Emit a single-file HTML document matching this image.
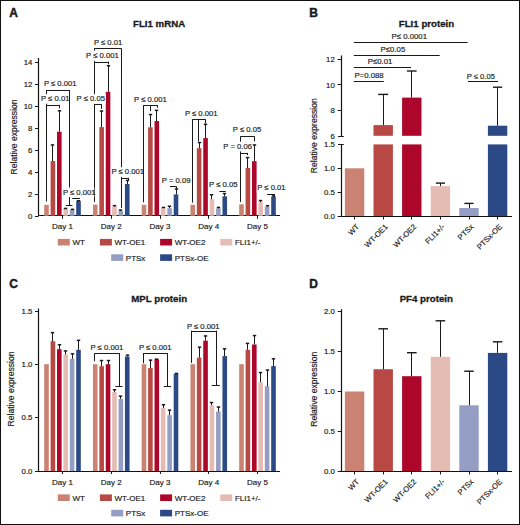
<!DOCTYPE html>
<html><head><meta charset="utf-8"><style>
html,body{margin:0;padding:0;background:#fff;}
svg{display:block;font-family:"Liberation Sans", sans-serif;}
text{stroke:#1a1a1a;stroke-width:0.17px;}
</style></head><body>
<svg width="520" height="525" viewBox="0 0 520 525">
<rect x="0" y="0" width="520" height="525" fill="#fff"/>
<text x="9.20" y="16.50" font-size="12" text-anchor="start" font-weight="bold" fill="#1a1a1a" style="stroke-width:0.45px">A</text>
<text x="159.10" y="27.20" font-size="9.7" text-anchor="middle" font-weight="bold" fill="#1a1a1a" style="stroke-width:0.3px">FLI1 mRNA</text>
<text transform="translate(17.0,136.9) rotate(-90)" font-size="8.6" text-anchor="middle" fill="#1a1a1a">Relative expression</text>
<line x1="46.40" y1="90.50" x2="69.10" y2="90.50" stroke="#1a1a1a" stroke-width="1.0"/>
<line x1="46.50" y1="90.00" x2="46.50" y2="201.50" stroke="#1a1a1a" stroke-width="1.0"/>
<line x1="69.50" y1="90.00" x2="69.50" y2="205.50" stroke="#1a1a1a" stroke-width="1.0"/>
<line x1="65.80" y1="205.50" x2="72.40" y2="205.50" stroke="#1a1a1a" stroke-width="1.0"/>
<line x1="46.40" y1="105.50" x2="59.70" y2="105.50" stroke="#1a1a1a" stroke-width="1.0"/>
<line x1="59.50" y1="104.80" x2="59.50" y2="108.40" stroke="#1a1a1a" stroke-width="1.0"/>
<line x1="72.20" y1="198.50" x2="80.00" y2="198.50" stroke="#1a1a1a" stroke-width="1.0"/>
<line x1="94.50" y1="48.50" x2="121.10" y2="48.50" stroke="#1a1a1a" stroke-width="1.0"/>
<line x1="94.50" y1="48.30" x2="94.50" y2="202.00" stroke="#1a1a1a" stroke-width="1.0"/>
<line x1="121.50" y1="48.30" x2="121.50" y2="208.00" stroke="#1a1a1a" stroke-width="1.0"/>
<line x1="94.50" y1="62.50" x2="108.30" y2="62.50" stroke="#1a1a1a" stroke-width="1.0"/>
<line x1="108.50" y1="61.60" x2="108.50" y2="64.40" stroke="#1a1a1a" stroke-width="1.0"/>
<line x1="94.50" y1="104.50" x2="101.80" y2="104.50" stroke="#1a1a1a" stroke-width="1.0"/>
<line x1="101.50" y1="104.40" x2="101.50" y2="109.00" stroke="#1a1a1a" stroke-width="1.0"/>
<line x1="121.10" y1="178.50" x2="128.20" y2="178.50" stroke="#1a1a1a" stroke-width="1.0"/>
<line x1="128.50" y1="177.80" x2="128.50" y2="180.60" stroke="#1a1a1a" stroke-width="1.0"/>
<line x1="143.60" y1="105.50" x2="157.10" y2="105.50" stroke="#1a1a1a" stroke-width="1.0"/>
<line x1="143.50" y1="105.10" x2="143.50" y2="202.30" stroke="#1a1a1a" stroke-width="1.0"/>
<line x1="150.50" y1="105.10" x2="150.50" y2="111.10" stroke="#1a1a1a" stroke-width="1.0"/>
<line x1="157.50" y1="105.10" x2="157.50" y2="107.70" stroke="#1a1a1a" stroke-width="1.0"/>
<line x1="170.00" y1="186.50" x2="176.30" y2="186.50" stroke="#1a1a1a" stroke-width="1.0"/>
<line x1="176.50" y1="186.30" x2="176.50" y2="188.60" stroke="#1a1a1a" stroke-width="1.0"/>
<line x1="192.30" y1="119.50" x2="205.60" y2="119.50" stroke="#1a1a1a" stroke-width="1.0"/>
<line x1="192.50" y1="119.30" x2="192.50" y2="202.70" stroke="#1a1a1a" stroke-width="1.0"/>
<line x1="198.50" y1="119.30" x2="198.50" y2="141.50" stroke="#1a1a1a" stroke-width="1.0"/>
<line x1="205.50" y1="119.30" x2="205.50" y2="123.60" stroke="#1a1a1a" stroke-width="1.0"/>
<line x1="219.40" y1="191.50" x2="225.80" y2="191.50" stroke="#1a1a1a" stroke-width="1.0"/>
<line x1="240.70" y1="136.50" x2="254.40" y2="136.50" stroke="#1a1a1a" stroke-width="1.0"/>
<line x1="240.50" y1="136.20" x2="240.50" y2="202.00" stroke="#1a1a1a" stroke-width="1.0"/>
<line x1="254.50" y1="136.20" x2="254.50" y2="141.30" stroke="#1a1a1a" stroke-width="1.0"/>
<line x1="240.90" y1="153.50" x2="247.70" y2="153.50" stroke="#1a1a1a" stroke-width="1.0"/>
<line x1="247.50" y1="152.90" x2="247.50" y2="155.20" stroke="#1a1a1a" stroke-width="1.0"/>
<line x1="267.10" y1="194.50" x2="274.00" y2="194.50" stroke="#1a1a1a" stroke-width="1.0"/>
<line x1="274.50" y1="194.10" x2="274.50" y2="196.90" stroke="#1a1a1a" stroke-width="1.0"/>
<line x1="38.50" y1="58.00" x2="38.50" y2="216.30" stroke="#111" stroke-width="1.2"/>
<line x1="38.00" y1="215.50" x2="280.00" y2="215.50" stroke="#111" stroke-width="1.2"/>
<line x1="35.00" y1="216.50" x2="38.50" y2="216.50" stroke="#1a1a1a" stroke-width="1.0"/>
<text x="32.40" y="218.60" font-size="7.8" text-anchor="end" font-weight="normal" fill="#1a1a1a" >0</text>
<line x1="35.00" y1="194.50" x2="38.50" y2="194.50" stroke="#1a1a1a" stroke-width="1.0"/>
<text x="32.40" y="196.60" font-size="7.8" text-anchor="end" font-weight="normal" fill="#1a1a1a" >2</text>
<line x1="35.00" y1="172.50" x2="38.50" y2="172.50" stroke="#1a1a1a" stroke-width="1.0"/>
<text x="32.40" y="174.60" font-size="7.8" text-anchor="end" font-weight="normal" fill="#1a1a1a" >4</text>
<line x1="35.00" y1="150.50" x2="38.50" y2="150.50" stroke="#1a1a1a" stroke-width="1.0"/>
<text x="32.40" y="152.60" font-size="7.8" text-anchor="end" font-weight="normal" fill="#1a1a1a" >6</text>
<line x1="35.00" y1="128.50" x2="38.50" y2="128.50" stroke="#1a1a1a" stroke-width="1.0"/>
<text x="32.40" y="130.60" font-size="7.8" text-anchor="end" font-weight="normal" fill="#1a1a1a" >8</text>
<line x1="35.00" y1="106.50" x2="38.50" y2="106.50" stroke="#1a1a1a" stroke-width="1.0"/>
<text x="32.40" y="108.60" font-size="7.8" text-anchor="end" font-weight="normal" fill="#1a1a1a" >10</text>
<line x1="35.00" y1="84.50" x2="38.50" y2="84.50" stroke="#1a1a1a" stroke-width="1.0"/>
<text x="32.40" y="86.60" font-size="7.8" text-anchor="end" font-weight="normal" fill="#1a1a1a" >12</text>
<line x1="35.00" y1="62.50" x2="38.50" y2="62.50" stroke="#1a1a1a" stroke-width="1.0"/>
<text x="32.40" y="64.60" font-size="7.8" text-anchor="end" font-weight="normal" fill="#1a1a1a" >14</text>
<line x1="62.50" y1="215.80" x2="62.50" y2="218.80" stroke="#1a1a1a" stroke-width="1.0"/>
<text x="62.50" y="228.90" font-size="8" text-anchor="middle" font-weight="normal" fill="#1a1a1a" >Day 1</text>
<line x1="111.50" y1="215.80" x2="111.50" y2="218.80" stroke="#1a1a1a" stroke-width="1.0"/>
<text x="111.25" y="228.90" font-size="8" text-anchor="middle" font-weight="normal" fill="#1a1a1a" >Day 2</text>
<line x1="160.50" y1="215.80" x2="160.50" y2="218.80" stroke="#1a1a1a" stroke-width="1.0"/>
<text x="160.00" y="228.90" font-size="8" text-anchor="middle" font-weight="normal" fill="#1a1a1a" >Day 3</text>
<line x1="208.50" y1="215.80" x2="208.50" y2="218.80" stroke="#1a1a1a" stroke-width="1.0"/>
<text x="208.75" y="228.90" font-size="8" text-anchor="middle" font-weight="normal" fill="#1a1a1a" >Day 4</text>
<line x1="257.50" y1="215.80" x2="257.50" y2="218.80" stroke="#1a1a1a" stroke-width="1.0"/>
<text x="257.50" y="228.90" font-size="8" text-anchor="middle" font-weight="normal" fill="#1a1a1a" >Day 5</text>
<rect x="44.20" y="204.80" width="4.60" height="11.00" fill="#CA8272"/>
<rect x="50.60" y="161.00" width="4.60" height="54.80" fill="#B74844"/>
<rect x="57.00" y="131.70" width="4.60" height="84.10" fill="#AC062B"/>
<rect x="63.40" y="209.00" width="4.60" height="6.80" fill="#E4BCB3"/>
<rect x="69.80" y="209.80" width="4.60" height="6.00" fill="#949DC3"/>
<rect x="76.20" y="201.10" width="4.60" height="14.70" fill="#2A4985"/>
<rect x="92.95" y="204.60" width="4.60" height="11.20" fill="#CA8272"/>
<rect x="99.35" y="127.10" width="4.60" height="88.70" fill="#B74844"/>
<rect x="105.75" y="91.80" width="4.60" height="124.00" fill="#AC062B"/>
<rect x="112.15" y="206.30" width="4.60" height="9.50" fill="#E4BCB3"/>
<rect x="118.55" y="210.90" width="4.60" height="4.90" fill="#949DC3"/>
<rect x="124.95" y="184.00" width="4.60" height="31.80" fill="#2A4985"/>
<rect x="141.70" y="204.80" width="4.60" height="11.00" fill="#CA8272"/>
<rect x="148.10" y="127.30" width="4.60" height="88.50" fill="#B74844"/>
<rect x="154.50" y="121.00" width="4.60" height="94.80" fill="#AC062B"/>
<rect x="160.90" y="207.90" width="4.60" height="7.90" fill="#E4BCB3"/>
<rect x="167.30" y="208.20" width="4.60" height="7.60" fill="#949DC3"/>
<rect x="173.70" y="194.40" width="4.60" height="21.40" fill="#2A4985"/>
<rect x="190.45" y="204.80" width="4.60" height="11.00" fill="#CA8272"/>
<rect x="196.85" y="148.20" width="4.60" height="67.60" fill="#B74844"/>
<rect x="203.25" y="138.10" width="4.60" height="77.70" fill="#AC062B"/>
<rect x="209.65" y="199.20" width="4.60" height="16.60" fill="#E4BCB3"/>
<rect x="216.05" y="208.40" width="4.60" height="7.40" fill="#949DC3"/>
<rect x="222.45" y="196.30" width="4.60" height="19.50" fill="#2A4985"/>
<rect x="239.20" y="204.40" width="4.60" height="11.40" fill="#CA8272"/>
<rect x="245.60" y="168.00" width="4.60" height="47.80" fill="#B74844"/>
<rect x="252.00" y="161.20" width="4.60" height="54.60" fill="#AC062B"/>
<rect x="258.40" y="202.10" width="4.60" height="13.70" fill="#E4BCB3"/>
<rect x="264.80" y="206.70" width="4.60" height="9.10" fill="#949DC3"/>
<rect x="271.20" y="196.70" width="4.60" height="19.10" fill="#2A4985"/>
<line x1="52.50" y1="161.00" x2="52.50" y2="144.80" stroke="#1a1a1a" stroke-width="1.0"/>
<rect x="50.80" y="144.20" width="3.40" height="1.5" fill="#1a1a1a"/>
<line x1="59.50" y1="131.70" x2="59.50" y2="110.70" stroke="#1a1a1a" stroke-width="1.0"/>
<rect x="57.80" y="110.10" width="3.40" height="1.5" fill="#1a1a1a"/>
<line x1="65.50" y1="209.00" x2="65.50" y2="208.30" stroke="#1a1a1a" stroke-width="1.0"/>
<rect x="63.80" y="207.70" width="3.40" height="1.5" fill="#1a1a1a"/>
<line x1="72.50" y1="209.80" x2="72.50" y2="209.20" stroke="#1a1a1a" stroke-width="1.0"/>
<rect x="70.80" y="208.60" width="3.40" height="1.5" fill="#1a1a1a"/>
<line x1="78.50" y1="201.10" x2="78.50" y2="200.60" stroke="#1a1a1a" stroke-width="1.0"/>
<rect x="76.80" y="200.00" width="3.40" height="1.5" fill="#1a1a1a"/>
<line x1="101.50" y1="127.10" x2="101.50" y2="110.90" stroke="#1a1a1a" stroke-width="1.0"/>
<rect x="99.80" y="110.30" width="3.40" height="1.5" fill="#1a1a1a"/>
<line x1="108.50" y1="91.80" x2="108.50" y2="65.60" stroke="#1a1a1a" stroke-width="1.0"/>
<rect x="106.80" y="65.00" width="3.40" height="1.5" fill="#1a1a1a"/>
<line x1="114.50" y1="206.30" x2="114.50" y2="205.50" stroke="#1a1a1a" stroke-width="1.0"/>
<rect x="112.80" y="204.90" width="3.40" height="1.5" fill="#1a1a1a"/>
<line x1="120.50" y1="210.90" x2="120.50" y2="209.90" stroke="#1a1a1a" stroke-width="1.0"/>
<rect x="118.80" y="209.30" width="3.40" height="1.5" fill="#1a1a1a"/>
<line x1="127.50" y1="184.00" x2="127.50" y2="180.30" stroke="#1a1a1a" stroke-width="1.0"/>
<rect x="125.80" y="179.70" width="3.40" height="1.5" fill="#1a1a1a"/>
<line x1="150.50" y1="127.30" x2="150.50" y2="114.40" stroke="#1a1a1a" stroke-width="1.0"/>
<rect x="148.80" y="113.80" width="3.40" height="1.5" fill="#1a1a1a"/>
<line x1="156.50" y1="121.00" x2="156.50" y2="110.20" stroke="#1a1a1a" stroke-width="1.0"/>
<rect x="154.80" y="109.60" width="3.40" height="1.5" fill="#1a1a1a"/>
<line x1="163.50" y1="207.90" x2="163.50" y2="207.30" stroke="#1a1a1a" stroke-width="1.0"/>
<rect x="161.80" y="206.70" width="3.40" height="1.5" fill="#1a1a1a"/>
<line x1="169.50" y1="208.20" x2="169.50" y2="206.10" stroke="#1a1a1a" stroke-width="1.0"/>
<rect x="167.80" y="205.50" width="3.40" height="1.5" fill="#1a1a1a"/>
<line x1="176.50" y1="194.40" x2="176.50" y2="188.80" stroke="#1a1a1a" stroke-width="1.0"/>
<rect x="174.80" y="188.20" width="3.40" height="1.5" fill="#1a1a1a"/>
<line x1="199.50" y1="148.20" x2="199.50" y2="142.40" stroke="#1a1a1a" stroke-width="1.0"/>
<rect x="197.80" y="141.80" width="3.40" height="1.5" fill="#1a1a1a"/>
<line x1="205.50" y1="138.10" x2="205.50" y2="124.20" stroke="#1a1a1a" stroke-width="1.0"/>
<rect x="203.80" y="123.60" width="3.40" height="1.5" fill="#1a1a1a"/>
<line x1="211.50" y1="199.20" x2="211.50" y2="194.60" stroke="#1a1a1a" stroke-width="1.0"/>
<rect x="209.80" y="194.00" width="3.40" height="1.5" fill="#1a1a1a"/>
<line x1="218.50" y1="208.40" x2="218.50" y2="207.30" stroke="#1a1a1a" stroke-width="1.0"/>
<rect x="216.80" y="206.70" width="3.40" height="1.5" fill="#1a1a1a"/>
<line x1="224.50" y1="196.30" x2="224.50" y2="193.40" stroke="#1a1a1a" stroke-width="1.0"/>
<rect x="222.80" y="192.80" width="3.40" height="1.5" fill="#1a1a1a"/>
<line x1="247.50" y1="168.00" x2="247.50" y2="157.50" stroke="#1a1a1a" stroke-width="1.0"/>
<rect x="245.80" y="156.90" width="3.40" height="1.5" fill="#1a1a1a"/>
<line x1="254.50" y1="161.20" x2="254.50" y2="144.80" stroke="#1a1a1a" stroke-width="1.0"/>
<rect x="252.80" y="144.20" width="3.40" height="1.5" fill="#1a1a1a"/>
<line x1="260.50" y1="202.10" x2="260.50" y2="200.40" stroke="#1a1a1a" stroke-width="1.0"/>
<rect x="258.80" y="199.80" width="3.40" height="1.5" fill="#1a1a1a"/>
<line x1="267.50" y1="206.70" x2="267.50" y2="205.60" stroke="#1a1a1a" stroke-width="1.0"/>
<rect x="265.80" y="205.00" width="3.40" height="1.5" fill="#1a1a1a"/>
<line x1="273.50" y1="196.70" x2="273.50" y2="195.80" stroke="#1a1a1a" stroke-width="1.0"/>
<rect x="271.80" y="195.20" width="3.40" height="1.5" fill="#1a1a1a"/>
<rect x="57.80" y="238.90" width="12.00" height="6.60" fill="#CA8272"/>
<text x="72.40" y="245.20" font-size="8" text-anchor="start" font-weight="normal" fill="#1a1a1a" >WT</text>
<rect x="99.90" y="238.90" width="12.00" height="6.60" fill="#B74844"/>
<text x="114.50" y="245.20" font-size="8" text-anchor="start" font-weight="normal" fill="#1a1a1a" >WT-OE1</text>
<rect x="160.10" y="238.90" width="12.00" height="6.60" fill="#AC062B"/>
<text x="174.70" y="245.20" font-size="8" text-anchor="start" font-weight="normal" fill="#1a1a1a" >WT-OE2</text>
<rect x="220.30" y="238.90" width="12.00" height="6.60" fill="#E4BCB3"/>
<text x="234.90" y="245.20" font-size="8" text-anchor="start" font-weight="normal" fill="#1a1a1a" >FLI1+/-</text>
<rect x="111.20" y="254.30" width="12.00" height="6.60" fill="#949DC3"/>
<text x="125.80" y="260.60" font-size="8" text-anchor="start" font-weight="normal" fill="#1a1a1a" >PTSx</text>
<rect x="160.10" y="254.30" width="12.00" height="6.60" fill="#2A4985"/>
<text x="174.70" y="260.60" font-size="8" text-anchor="start" font-weight="normal" fill="#1a1a1a" >PTSx-OE</text>
<rect x="43.50" y="78.90" width="32.30" height="10.00" fill="#fff"/>
<text x="43.90" y="86.45" font-size="7.7" text-anchor="start" font-weight="normal" fill="#1a1a1a" >P ≤ 0.001</text>
<rect x="40.60" y="94.20" width="27.90" height="9.50" fill="#fff"/>
<text x="41.00" y="101.25" font-size="7.7" text-anchor="start" font-weight="normal" fill="#1a1a1a" >P ≤ 0.01</text>
<rect x="62.50" y="187.50" width="31.80" height="9.50" fill="#fff"/>
<text x="62.90" y="194.55" font-size="7.7" text-anchor="start" font-weight="normal" fill="#1a1a1a" >P ≤ 0.001</text>
<rect x="93.50" y="37.10" width="28.50" height="10.50" fill="#fff"/>
<text x="93.90" y="45.15" font-size="7.7" text-anchor="start" font-weight="normal" fill="#1a1a1a" >P ≤ 0.01</text>
<rect x="85.70" y="50.50" width="33.40" height="10.30" fill="#fff"/>
<text x="86.10" y="58.35" font-size="7.7" text-anchor="start" font-weight="normal" fill="#1a1a1a" >P ≤ 0.001</text>
<rect x="76.20" y="94.20" width="29.40" height="9.70" fill="#fff"/>
<text x="76.60" y="101.45" font-size="7.7" text-anchor="start" font-weight="normal" fill="#1a1a1a" >P ≤ 0.05</text>
<rect x="111.00" y="167.20" width="32.00" height="9.70" fill="#fff"/>
<text x="111.40" y="174.45" font-size="7.7" text-anchor="start" font-weight="normal" fill="#1a1a1a" >P ≤ 0.001</text>
<rect x="133.70" y="94.80" width="32.90" height="9.70" fill="#fff"/>
<text x="134.10" y="102.05" font-size="7.7" text-anchor="start" font-weight="normal" fill="#1a1a1a" >P ≤ 0.001</text>
<rect x="161.40" y="175.70" width="28.50" height="9.40" fill="#fff"/>
<text x="161.80" y="182.65" font-size="7.7" text-anchor="start" font-weight="normal" fill="#1a1a1a" >P = 0.09</text>
<rect x="184.50" y="108.50" width="33.30" height="9.60" fill="#fff"/>
<text x="184.90" y="115.65" font-size="7.7" text-anchor="start" font-weight="normal" fill="#1a1a1a" >P ≤ 0.001</text>
<rect x="208.70" y="180.30" width="29.50" height="9.40" fill="#fff"/>
<text x="209.10" y="187.25" font-size="7.7" text-anchor="start" font-weight="normal" fill="#1a1a1a" >P ≤ 0.05</text>
<rect x="232.40" y="125.60" width="29.40" height="9.30" fill="#fff"/>
<text x="232.80" y="132.45" font-size="7.7" text-anchor="start" font-weight="normal" fill="#1a1a1a" >P ≤ 0.05</text>
<rect x="222.90" y="141.70" width="29.10" height="9.70" fill="#fff"/>
<text x="223.30" y="148.95" font-size="7.7" text-anchor="start" font-weight="normal" fill="#1a1a1a" >P = 0.06</text>
<rect x="256.80" y="183.50" width="27.90" height="9.40" fill="#fff"/>
<text x="257.20" y="190.45" font-size="7.7" text-anchor="start" font-weight="normal" fill="#1a1a1a" >P ≤ 0.01</text>
<text x="309.30" y="16.60" font-size="12" text-anchor="start" font-weight="bold" fill="#1a1a1a" style="stroke-width:0.45px">B</text>
<text x="426.50" y="27.30" font-size="9.7" text-anchor="middle" font-weight="bold" fill="#1a1a1a" style="stroke-width:0.3px">FLI1 protein</text>
<text transform="translate(316.8,135.7) rotate(-90)" font-size="8.6" text-anchor="middle" fill="#1a1a1a">Relative expression</text>
<line x1="341.50" y1="55.40" x2="341.50" y2="136.40" stroke="#111" stroke-width="1.2"/>
<line x1="341.50" y1="144.20" x2="341.50" y2="217.00" stroke="#111" stroke-width="1.2"/>
<line x1="338.00" y1="136.50" x2="343.80" y2="136.50" stroke="#1a1a1a" stroke-width="1.0"/>
<line x1="338.00" y1="144.50" x2="343.80" y2="144.50" stroke="#1a1a1a" stroke-width="1.0"/>
<line x1="337.60" y1="110.50" x2="341.20" y2="110.50" stroke="#1a1a1a" stroke-width="1.0"/>
<text x="334.80" y="113.24" font-size="7.8" text-anchor="end" font-weight="normal" fill="#1a1a1a" >8</text>
<line x1="337.60" y1="84.50" x2="341.20" y2="84.50" stroke="#1a1a1a" stroke-width="1.0"/>
<text x="334.80" y="87.58" font-size="7.8" text-anchor="end" font-weight="normal" fill="#1a1a1a" >10</text>
<line x1="337.60" y1="59.50" x2="341.20" y2="59.50" stroke="#1a1a1a" stroke-width="1.0"/>
<text x="334.80" y="61.92" font-size="7.8" text-anchor="end" font-weight="normal" fill="#1a1a1a" >12</text>
<text x="334.80" y="138.80" font-size="7.8" text-anchor="end" font-weight="normal" fill="#1a1a1a" >6</text>
<line x1="337.60" y1="216.50" x2="341.20" y2="216.50" stroke="#1a1a1a" stroke-width="1.0"/>
<text x="334.80" y="219.10" font-size="7.8" text-anchor="end" font-weight="normal" fill="#1a1a1a" >0.0</text>
<line x1="337.60" y1="192.50" x2="341.20" y2="192.50" stroke="#1a1a1a" stroke-width="1.0"/>
<text x="334.80" y="195.00" font-size="7.8" text-anchor="end" font-weight="normal" fill="#1a1a1a" >0.5</text>
<line x1="337.60" y1="168.50" x2="341.20" y2="168.50" stroke="#1a1a1a" stroke-width="1.0"/>
<text x="334.80" y="170.90" font-size="7.8" text-anchor="end" font-weight="normal" fill="#1a1a1a" >1.0</text>
<text x="334.80" y="146.90" font-size="7.8" text-anchor="end" font-weight="normal" fill="#1a1a1a" >1.5</text>
<rect x="344.90" y="168.30" width="19.40" height="48.20" fill="#CA8272"/>
<rect x="373.50" y="144.40" width="19.40" height="72.10" fill="#B74844"/>
<rect x="373.50" y="125.10" width="19.40" height="10.70" fill="#B74844"/>
<rect x="402.10" y="144.40" width="19.40" height="72.10" fill="#AC062B"/>
<rect x="402.10" y="97.60" width="19.40" height="38.20" fill="#AC062B"/>
<rect x="487.90" y="144.40" width="19.40" height="72.10" fill="#2A4985"/>
<rect x="487.90" y="125.70" width="19.40" height="10.10" fill="#2A4985"/>
<rect x="430.70" y="186.10" width="19.40" height="30.40" fill="#E4BCB3"/>
<rect x="459.30" y="208.00" width="19.40" height="8.50" fill="#949DC3"/>
<line x1="383.50" y1="125.10" x2="383.50" y2="94.40" stroke="#1a1a1a" stroke-width="1.0"/>
<rect x="378.20" y="93.70" width="10.00" height="1.4" fill="#1a1a1a"/>
<line x1="411.50" y1="97.60" x2="411.50" y2="71.00" stroke="#1a1a1a" stroke-width="1.0"/>
<rect x="407.00" y="70.30" width="9.60" height="1.4" fill="#1a1a1a"/>
<line x1="497.50" y1="125.70" x2="497.50" y2="87.20" stroke="#1a1a1a" stroke-width="1.0"/>
<rect x="493.00" y="86.50" width="9.20" height="1.4" fill="#1a1a1a"/>
<line x1="440.50" y1="186.10" x2="440.50" y2="183.10" stroke="#1a1a1a" stroke-width="1.0"/>
<rect x="435.80" y="182.40" width="9.20" height="1.4" fill="#1a1a1a"/>
<line x1="469.50" y1="208.00" x2="469.50" y2="203.40" stroke="#1a1a1a" stroke-width="1.0"/>
<rect x="464.40" y="202.70" width="9.20" height="1.4" fill="#1a1a1a"/>
<line x1="340.50" y1="216.50" x2="512.00" y2="216.50" stroke="#111" stroke-width="1.2"/>
<line x1="354.50" y1="216.50" x2="354.50" y2="219.50" stroke="#1a1a1a" stroke-width="1.0"/>
<text transform="translate(359.60,227.30) rotate(-45)" font-size="7.6" text-anchor="end" fill="#1a1a1a">WT</text>
<line x1="383.50" y1="216.50" x2="383.50" y2="219.50" stroke="#1a1a1a" stroke-width="1.0"/>
<text transform="translate(388.20,227.30) rotate(-45)" font-size="7.6" text-anchor="end" fill="#1a1a1a">WT-OE1</text>
<line x1="411.50" y1="216.50" x2="411.50" y2="219.50" stroke="#1a1a1a" stroke-width="1.0"/>
<text transform="translate(416.80,227.30) rotate(-45)" font-size="7.6" text-anchor="end" fill="#1a1a1a">WT-OE2</text>
<line x1="440.50" y1="216.50" x2="440.50" y2="219.50" stroke="#1a1a1a" stroke-width="1.0"/>
<text transform="translate(445.40,227.30) rotate(-45)" font-size="7.6" text-anchor="end" fill="#1a1a1a">FLI1+/-</text>
<line x1="469.50" y1="216.50" x2="469.50" y2="219.50" stroke="#1a1a1a" stroke-width="1.0"/>
<text transform="translate(474.00,227.30) rotate(-45)" font-size="7.6" text-anchor="end" fill="#1a1a1a">PTSx</text>
<line x1="497.50" y1="216.50" x2="497.50" y2="219.50" stroke="#1a1a1a" stroke-width="1.0"/>
<text transform="translate(502.60,227.30) rotate(-45)" font-size="7.6" text-anchor="end" fill="#1a1a1a">PTSx-OE</text>
<line x1="353.80" y1="42.50" x2="467.60" y2="42.50" stroke="#1a1a1a" stroke-width="1.0"/>
<line x1="353.80" y1="55.50" x2="439.70" y2="55.50" stroke="#1a1a1a" stroke-width="1.0"/>
<line x1="353.80" y1="67.50" x2="411.00" y2="67.50" stroke="#1a1a1a" stroke-width="1.0"/>
<line x1="353.80" y1="81.50" x2="383.80" y2="81.50" stroke="#1a1a1a" stroke-width="1.0"/>
<line x1="468.00" y1="81.50" x2="498.00" y2="81.50" stroke="#1a1a1a" stroke-width="1.0"/>
<text x="391.50" y="39.20" font-size="7.8" text-anchor="start" font-weight="normal" fill="#1a1a1a" >P≤ 0.0001</text>
<text x="380.60" y="51.90" font-size="7.8" text-anchor="start" font-weight="normal" fill="#1a1a1a" >P≤0.05</text>
<text x="367.80" y="64.30" font-size="7.8" text-anchor="start" font-weight="normal" fill="#1a1a1a" >P≤0.01</text>
<text x="354.40" y="77.80" font-size="7.8" text-anchor="start" font-weight="normal" fill="#1a1a1a" >P=0.088</text>
<text x="466.80" y="78.80" font-size="7.6" text-anchor="start" font-weight="normal" fill="#1a1a1a" >P ≤ 0.05</text>
<text x="9.20" y="287.80" font-size="12" text-anchor="start" font-weight="bold" fill="#1a1a1a" style="stroke-width:0.45px">C</text>
<text x="159.20" y="301.80" font-size="9.7" text-anchor="middle" font-weight="bold" fill="#1a1a1a" style="stroke-width:0.3px">MPL protein</text>
<text transform="translate(14.4,389.0) rotate(-90)" font-size="8.6" text-anchor="middle" fill="#1a1a1a">Relative expression</text>
<line x1="94.60" y1="353.50" x2="119.60" y2="353.50" stroke="#1a1a1a" stroke-width="1.0"/>
<line x1="94.50" y1="353.20" x2="94.50" y2="361.30" stroke="#1a1a1a" stroke-width="1.0"/>
<line x1="119.50" y1="353.20" x2="119.50" y2="386.30" stroke="#1a1a1a" stroke-width="1.0"/>
<line x1="115.40" y1="386.50" x2="122.50" y2="386.50" stroke="#1a1a1a" stroke-width="1.0"/>
<line x1="143.10" y1="353.50" x2="167.70" y2="353.50" stroke="#1a1a1a" stroke-width="1.0"/>
<line x1="143.50" y1="353.20" x2="143.50" y2="363.30" stroke="#1a1a1a" stroke-width="1.0"/>
<line x1="167.50" y1="353.20" x2="167.50" y2="386.30" stroke="#1a1a1a" stroke-width="1.0"/>
<line x1="163.80" y1="386.50" x2="171.00" y2="386.50" stroke="#1a1a1a" stroke-width="1.0"/>
<line x1="191.60" y1="331.50" x2="216.00" y2="331.50" stroke="#1a1a1a" stroke-width="1.0"/>
<line x1="191.50" y1="330.70" x2="191.50" y2="362.90" stroke="#1a1a1a" stroke-width="1.0"/>
<line x1="216.50" y1="330.70" x2="216.50" y2="385.70" stroke="#1a1a1a" stroke-width="1.0"/>
<line x1="211.70" y1="385.50" x2="219.80" y2="385.50" stroke="#1a1a1a" stroke-width="1.0"/>
<line x1="38.50" y1="308.50" x2="38.50" y2="471.50" stroke="#111" stroke-width="1.2"/>
<line x1="38.00" y1="471.50" x2="280.00" y2="471.50" stroke="#111" stroke-width="1.2"/>
<line x1="35.00" y1="471.50" x2="38.50" y2="471.50" stroke="#1a1a1a" stroke-width="1.0"/>
<text x="32.40" y="473.60" font-size="7.8" text-anchor="end" font-weight="normal" fill="#1a1a1a" >0.0</text>
<line x1="35.00" y1="417.50" x2="38.50" y2="417.50" stroke="#1a1a1a" stroke-width="1.0"/>
<text x="32.40" y="420.35" font-size="7.8" text-anchor="end" font-weight="normal" fill="#1a1a1a" >0.5</text>
<line x1="35.00" y1="364.50" x2="38.50" y2="364.50" stroke="#1a1a1a" stroke-width="1.0"/>
<text x="32.40" y="367.10" font-size="7.8" text-anchor="end" font-weight="normal" fill="#1a1a1a" >1.0</text>
<line x1="35.00" y1="311.50" x2="38.50" y2="311.50" stroke="#1a1a1a" stroke-width="1.0"/>
<text x="32.40" y="313.85" font-size="7.8" text-anchor="end" font-weight="normal" fill="#1a1a1a" >1.5</text>
<line x1="62.50" y1="471.00" x2="62.50" y2="474.00" stroke="#1a1a1a" stroke-width="1.0"/>
<text x="62.50" y="485.00" font-size="8" text-anchor="middle" font-weight="normal" fill="#1a1a1a" >Day 1</text>
<line x1="111.50" y1="471.00" x2="111.50" y2="474.00" stroke="#1a1a1a" stroke-width="1.0"/>
<text x="111.25" y="485.00" font-size="8" text-anchor="middle" font-weight="normal" fill="#1a1a1a" >Day 2</text>
<line x1="160.50" y1="471.00" x2="160.50" y2="474.00" stroke="#1a1a1a" stroke-width="1.0"/>
<text x="160.00" y="485.00" font-size="8" text-anchor="middle" font-weight="normal" fill="#1a1a1a" >Day 3</text>
<line x1="208.50" y1="471.00" x2="208.50" y2="474.00" stroke="#1a1a1a" stroke-width="1.0"/>
<text x="208.75" y="485.00" font-size="8" text-anchor="middle" font-weight="normal" fill="#1a1a1a" >Day 4</text>
<line x1="257.50" y1="471.00" x2="257.50" y2="474.00" stroke="#1a1a1a" stroke-width="1.0"/>
<text x="257.50" y="485.00" font-size="8" text-anchor="middle" font-weight="normal" fill="#1a1a1a" >Day 5</text>
<rect x="44.20" y="364.20" width="4.60" height="106.80" fill="#CA8272"/>
<rect x="50.60" y="341.20" width="4.60" height="129.80" fill="#B74844"/>
<rect x="57.00" y="349.20" width="4.60" height="121.80" fill="#AC062B"/>
<rect x="63.40" y="354.60" width="4.60" height="116.40" fill="#E4BCB3"/>
<rect x="69.80" y="358.80" width="4.60" height="112.20" fill="#949DC3"/>
<rect x="76.20" y="349.80" width="4.60" height="121.20" fill="#2A4985"/>
<rect x="92.95" y="364.20" width="4.60" height="106.80" fill="#CA8272"/>
<rect x="99.35" y="366.20" width="4.60" height="104.80" fill="#B74844"/>
<rect x="105.75" y="364.20" width="4.60" height="106.80" fill="#AC062B"/>
<rect x="112.15" y="392.10" width="4.60" height="78.90" fill="#E4BCB3"/>
<rect x="118.55" y="398.80" width="4.60" height="72.20" fill="#949DC3"/>
<rect x="124.95" y="356.50" width="4.60" height="114.50" fill="#2A4985"/>
<rect x="141.70" y="364.20" width="4.60" height="106.80" fill="#CA8272"/>
<rect x="148.10" y="368.10" width="4.60" height="102.90" fill="#B74844"/>
<rect x="154.50" y="359.40" width="4.60" height="111.60" fill="#AC062B"/>
<rect x="160.90" y="408.00" width="4.60" height="63.00" fill="#E4BCB3"/>
<rect x="167.30" y="415.20" width="4.60" height="55.80" fill="#949DC3"/>
<rect x="173.70" y="373.80" width="4.60" height="97.20" fill="#2A4985"/>
<rect x="190.45" y="364.20" width="4.60" height="106.80" fill="#CA8272"/>
<rect x="196.85" y="357.60" width="4.60" height="113.40" fill="#B74844"/>
<rect x="203.25" y="340.70" width="4.60" height="130.30" fill="#AC062B"/>
<rect x="209.65" y="405.20" width="4.60" height="65.80" fill="#E4BCB3"/>
<rect x="216.05" y="411.50" width="4.60" height="59.50" fill="#949DC3"/>
<rect x="222.45" y="356.10" width="4.60" height="114.90" fill="#2A4985"/>
<rect x="239.20" y="364.20" width="4.60" height="106.80" fill="#CA8272"/>
<rect x="245.60" y="349.80" width="4.60" height="121.20" fill="#B74844"/>
<rect x="252.00" y="344.50" width="4.60" height="126.50" fill="#AC062B"/>
<rect x="258.40" y="382.30" width="4.60" height="88.70" fill="#E4BCB3"/>
<rect x="264.80" y="386.20" width="4.60" height="84.80" fill="#949DC3"/>
<rect x="271.20" y="366.10" width="4.60" height="104.90" fill="#2A4985"/>
<line x1="52.50" y1="341.20" x2="52.50" y2="332.50" stroke="#1a1a1a" stroke-width="1.0"/>
<rect x="50.80" y="331.90" width="3.40" height="1.5" fill="#1a1a1a"/>
<line x1="59.50" y1="349.20" x2="59.50" y2="344.60" stroke="#1a1a1a" stroke-width="1.0"/>
<rect x="57.80" y="344.00" width="3.40" height="1.5" fill="#1a1a1a"/>
<line x1="65.50" y1="354.60" x2="65.50" y2="350.80" stroke="#1a1a1a" stroke-width="1.0"/>
<rect x="63.80" y="350.20" width="3.40" height="1.5" fill="#1a1a1a"/>
<line x1="72.50" y1="358.80" x2="72.50" y2="353.70" stroke="#1a1a1a" stroke-width="1.0"/>
<rect x="70.80" y="353.10" width="3.40" height="1.5" fill="#1a1a1a"/>
<line x1="78.50" y1="349.80" x2="78.50" y2="340.20" stroke="#1a1a1a" stroke-width="1.0"/>
<rect x="76.80" y="339.60" width="3.40" height="1.5" fill="#1a1a1a"/>
<line x1="101.50" y1="366.20" x2="101.50" y2="360.40" stroke="#1a1a1a" stroke-width="1.0"/>
<rect x="99.80" y="359.80" width="3.40" height="1.5" fill="#1a1a1a"/>
<line x1="108.50" y1="364.20" x2="108.50" y2="360.40" stroke="#1a1a1a" stroke-width="1.0"/>
<rect x="106.80" y="359.80" width="3.40" height="1.5" fill="#1a1a1a"/>
<line x1="114.50" y1="392.10" x2="114.50" y2="389.60" stroke="#1a1a1a" stroke-width="1.0"/>
<rect x="112.80" y="389.00" width="3.40" height="1.5" fill="#1a1a1a"/>
<line x1="120.50" y1="398.80" x2="120.50" y2="396.00" stroke="#1a1a1a" stroke-width="1.0"/>
<rect x="118.80" y="395.40" width="3.40" height="1.5" fill="#1a1a1a"/>
<line x1="127.50" y1="356.50" x2="127.50" y2="355.00" stroke="#1a1a1a" stroke-width="1.0"/>
<rect x="125.80" y="354.40" width="3.40" height="1.5" fill="#1a1a1a"/>
<line x1="150.50" y1="368.10" x2="150.50" y2="360.00" stroke="#1a1a1a" stroke-width="1.0"/>
<rect x="148.80" y="359.40" width="3.40" height="1.5" fill="#1a1a1a"/>
<line x1="156.50" y1="359.40" x2="156.50" y2="359.00" stroke="#1a1a1a" stroke-width="1.0"/>
<rect x="154.80" y="358.40" width="3.40" height="1.5" fill="#1a1a1a"/>
<line x1="163.50" y1="408.00" x2="163.50" y2="404.60" stroke="#1a1a1a" stroke-width="1.0"/>
<rect x="161.80" y="404.00" width="3.40" height="1.5" fill="#1a1a1a"/>
<line x1="169.50" y1="415.20" x2="169.50" y2="410.00" stroke="#1a1a1a" stroke-width="1.0"/>
<rect x="167.80" y="409.40" width="3.40" height="1.5" fill="#1a1a1a"/>
<line x1="176.50" y1="373.80" x2="176.50" y2="373.30" stroke="#1a1a1a" stroke-width="1.0"/>
<rect x="174.80" y="372.70" width="3.40" height="1.5" fill="#1a1a1a"/>
<line x1="199.50" y1="357.60" x2="199.50" y2="347.00" stroke="#1a1a1a" stroke-width="1.0"/>
<rect x="197.80" y="346.40" width="3.40" height="1.5" fill="#1a1a1a"/>
<line x1="205.50" y1="340.70" x2="205.50" y2="335.80" stroke="#1a1a1a" stroke-width="1.0"/>
<rect x="203.80" y="335.20" width="3.40" height="1.5" fill="#1a1a1a"/>
<line x1="211.50" y1="405.20" x2="211.50" y2="402.40" stroke="#1a1a1a" stroke-width="1.0"/>
<rect x="209.80" y="401.80" width="3.40" height="1.5" fill="#1a1a1a"/>
<line x1="218.50" y1="411.50" x2="218.50" y2="406.90" stroke="#1a1a1a" stroke-width="1.0"/>
<rect x="216.80" y="406.30" width="3.40" height="1.5" fill="#1a1a1a"/>
<line x1="224.50" y1="356.10" x2="224.50" y2="348.70" stroke="#1a1a1a" stroke-width="1.0"/>
<rect x="222.80" y="348.10" width="3.40" height="1.5" fill="#1a1a1a"/>
<line x1="247.50" y1="349.80" x2="247.50" y2="343.20" stroke="#1a1a1a" stroke-width="1.0"/>
<rect x="245.80" y="342.60" width="3.40" height="1.5" fill="#1a1a1a"/>
<line x1="254.50" y1="344.50" x2="254.50" y2="335.40" stroke="#1a1a1a" stroke-width="1.0"/>
<rect x="252.80" y="334.80" width="3.40" height="1.5" fill="#1a1a1a"/>
<line x1="260.50" y1="382.30" x2="260.50" y2="372.40" stroke="#1a1a1a" stroke-width="1.0"/>
<rect x="258.80" y="371.80" width="3.40" height="1.5" fill="#1a1a1a"/>
<line x1="267.50" y1="386.20" x2="267.50" y2="369.90" stroke="#1a1a1a" stroke-width="1.0"/>
<rect x="265.80" y="369.30" width="3.40" height="1.5" fill="#1a1a1a"/>
<line x1="273.50" y1="366.10" x2="273.50" y2="358.70" stroke="#1a1a1a" stroke-width="1.0"/>
<rect x="271.80" y="358.10" width="3.40" height="1.5" fill="#1a1a1a"/>
<rect x="57.80" y="494.40" width="12.00" height="6.60" fill="#CA8272"/>
<text x="72.40" y="500.70" font-size="8" text-anchor="start" font-weight="normal" fill="#1a1a1a" >WT</text>
<rect x="99.90" y="494.40" width="12.00" height="6.60" fill="#B74844"/>
<text x="114.50" y="500.70" font-size="8" text-anchor="start" font-weight="normal" fill="#1a1a1a" >WT-OE1</text>
<rect x="160.10" y="494.40" width="12.00" height="6.60" fill="#AC062B"/>
<text x="174.70" y="500.70" font-size="8" text-anchor="start" font-weight="normal" fill="#1a1a1a" >WT-OE2</text>
<rect x="220.30" y="494.40" width="12.00" height="6.60" fill="#E4BCB3"/>
<text x="234.90" y="500.70" font-size="8" text-anchor="start" font-weight="normal" fill="#1a1a1a" >FLI1+/-</text>
<rect x="111.20" y="509.80" width="12.00" height="6.60" fill="#949DC3"/>
<text x="125.80" y="516.10" font-size="8" text-anchor="start" font-weight="normal" fill="#1a1a1a" >PTSx</text>
<rect x="160.10" y="509.80" width="12.00" height="6.60" fill="#2A4985"/>
<text x="174.70" y="516.10" font-size="8" text-anchor="start" font-weight="normal" fill="#1a1a1a" >PTSx-OE</text>
<text x="90.50" y="350.35" font-size="7.7" text-anchor="start" font-weight="normal" fill="#1a1a1a" >P ≤ 0.001</text>
<text x="138.90" y="350.35" font-size="7.7" text-anchor="start" font-weight="normal" fill="#1a1a1a" >P ≤ 0.001</text>
<text x="186.90" y="329.15" font-size="7.7" text-anchor="start" font-weight="normal" fill="#1a1a1a" >P ≤ 0.001</text>
<text x="309.30" y="287.90" font-size="12" text-anchor="start" font-weight="bold" fill="#1a1a1a" style="stroke-width:0.45px">D</text>
<text x="426.30" y="301.80" font-size="9.7" text-anchor="middle" font-weight="bold" fill="#1a1a1a" style="stroke-width:0.3px">PF4 protein</text>
<text transform="translate(316.8,389.3) rotate(-90)" font-size="8.6" text-anchor="middle" fill="#1a1a1a">Relative expression</text>
<line x1="341.50" y1="309.20" x2="341.50" y2="472.00" stroke="#111" stroke-width="1.2"/>
<line x1="337.70" y1="471.50" x2="341.30" y2="471.50" stroke="#1a1a1a" stroke-width="1.0"/>
<text x="334.80" y="474.10" font-size="7.8" text-anchor="end" font-weight="normal" fill="#1a1a1a" >0.0</text>
<line x1="337.70" y1="431.50" x2="341.30" y2="431.50" stroke="#1a1a1a" stroke-width="1.0"/>
<text x="334.80" y="434.10" font-size="7.8" text-anchor="end" font-weight="normal" fill="#1a1a1a" >0.5</text>
<line x1="337.70" y1="391.50" x2="341.30" y2="391.50" stroke="#1a1a1a" stroke-width="1.0"/>
<text x="334.80" y="394.10" font-size="7.8" text-anchor="end" font-weight="normal" fill="#1a1a1a" >1.0</text>
<line x1="337.70" y1="351.50" x2="341.30" y2="351.50" stroke="#1a1a1a" stroke-width="1.0"/>
<text x="334.80" y="354.10" font-size="7.8" text-anchor="end" font-weight="normal" fill="#1a1a1a" >1.5</text>
<line x1="337.70" y1="311.50" x2="341.30" y2="311.50" stroke="#1a1a1a" stroke-width="1.0"/>
<text x="334.80" y="314.10" font-size="7.8" text-anchor="end" font-weight="normal" fill="#1a1a1a" >2.0</text>
<rect x="344.90" y="391.50" width="19.40" height="80.00" fill="#CA8272"/>
<rect x="373.50" y="369.20" width="19.40" height="102.30" fill="#B74844"/>
<rect x="402.10" y="376.20" width="19.40" height="95.30" fill="#AC062B"/>
<rect x="430.70" y="356.80" width="19.40" height="114.70" fill="#E4BCB3"/>
<rect x="459.30" y="405.30" width="19.40" height="66.20" fill="#949DC3"/>
<rect x="487.90" y="352.90" width="19.40" height="118.60" fill="#2A4985"/>
<line x1="383.50" y1="369.20" x2="383.50" y2="328.80" stroke="#1a1a1a" stroke-width="1.0"/>
<rect x="378.40" y="328.10" width="9.60" height="1.4" fill="#1a1a1a"/>
<line x1="411.50" y1="376.20" x2="411.50" y2="352.70" stroke="#1a1a1a" stroke-width="1.0"/>
<rect x="407.00" y="352.00" width="9.60" height="1.4" fill="#1a1a1a"/>
<line x1="440.50" y1="356.80" x2="440.50" y2="320.80" stroke="#1a1a1a" stroke-width="1.0"/>
<rect x="435.60" y="320.10" width="9.60" height="1.4" fill="#1a1a1a"/>
<line x1="469.50" y1="405.30" x2="469.50" y2="371.20" stroke="#1a1a1a" stroke-width="1.0"/>
<rect x="464.20" y="370.50" width="9.60" height="1.4" fill="#1a1a1a"/>
<line x1="497.50" y1="352.90" x2="497.50" y2="341.80" stroke="#1a1a1a" stroke-width="1.0"/>
<rect x="492.80" y="341.10" width="9.60" height="1.4" fill="#1a1a1a"/>
<line x1="340.50" y1="471.50" x2="512.00" y2="471.50" stroke="#111" stroke-width="1.2"/>
<line x1="354.50" y1="471.50" x2="354.50" y2="474.50" stroke="#1a1a1a" stroke-width="1.0"/>
<text transform="translate(359.60,482.30) rotate(-45)" font-size="7.6" text-anchor="end" fill="#1a1a1a">WT</text>
<line x1="383.50" y1="471.50" x2="383.50" y2="474.50" stroke="#1a1a1a" stroke-width="1.0"/>
<text transform="translate(388.20,482.30) rotate(-45)" font-size="7.6" text-anchor="end" fill="#1a1a1a">WT-OE1</text>
<line x1="411.50" y1="471.50" x2="411.50" y2="474.50" stroke="#1a1a1a" stroke-width="1.0"/>
<text transform="translate(416.80,482.30) rotate(-45)" font-size="7.6" text-anchor="end" fill="#1a1a1a">WT-OE2</text>
<line x1="440.50" y1="471.50" x2="440.50" y2="474.50" stroke="#1a1a1a" stroke-width="1.0"/>
<text transform="translate(445.40,482.30) rotate(-45)" font-size="7.6" text-anchor="end" fill="#1a1a1a">FLI1+/-</text>
<line x1="469.50" y1="471.50" x2="469.50" y2="474.50" stroke="#1a1a1a" stroke-width="1.0"/>
<text transform="translate(474.00,482.30) rotate(-45)" font-size="7.6" text-anchor="end" fill="#1a1a1a">PTSx</text>
<line x1="497.50" y1="471.50" x2="497.50" y2="474.50" stroke="#1a1a1a" stroke-width="1.0"/>
<text transform="translate(502.60,482.30) rotate(-45)" font-size="7.6" text-anchor="end" fill="#1a1a1a">PTSx-OE</text>
<rect x="0.5" y="0.5" width="519" height="524" fill="none" stroke="#111" stroke-width="1"/>
</svg>
</body></html>
